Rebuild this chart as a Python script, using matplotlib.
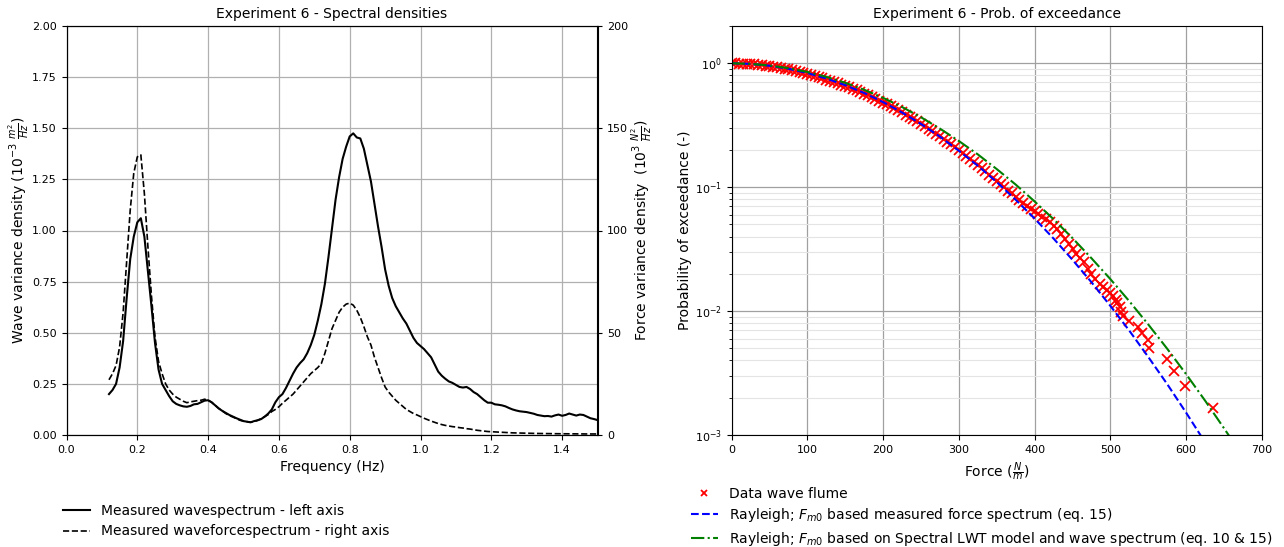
import numpy as np
import matplotlib.pyplot as plt
from matplotlib.lines import Line2D

# spectra on a 0.01 Hz frequency grid
freq = np.round(np.arange(0.12, 1.505, 0.01), 2)

# wave variance density (10^-3 m^2/Hz)
wave_spec = [
    0.20, 0.22, 0.25, 0.33, 0.46, 0.67, 0.86, 0.97, 1.04, 1.06,
    0.97, 0.80, 0.63, 0.45, 0.32, 0.25, 0.22, 0.19, 0.165, 0.152,
    0.145, 0.140, 0.138, 0.142, 0.150, 0.152, 0.160, 0.168, 0.170, 0.160,
    0.145, 0.130, 0.118, 0.108, 0.098, 0.090, 0.082, 0.075, 0.068, 0.065,
    0.062, 0.068, 0.072, 0.078, 0.090, 0.105, 0.125, 0.160, 0.185, 0.200,
    0.230, 0.265, 0.300, 0.330, 0.352, 0.370, 0.400, 0.440, 0.490, 0.560,
    0.640, 0.740, 0.870, 1.010, 1.150, 1.260, 1.350, 1.410, 1.460, 1.475,
    1.455, 1.450, 1.400, 1.320, 1.240, 1.130, 1.020, 0.920, 0.810, 0.730,
    0.670, 0.630, 0.600, 0.570, 0.545, 0.510, 0.475, 0.450, 0.435, 0.420,
    0.400, 0.380, 0.345, 0.310, 0.290, 0.275, 0.262, 0.255, 0.245, 0.235,
    0.232, 0.235, 0.225, 0.210, 0.200, 0.185, 0.170, 0.158, 0.158, 0.150,
    0.148, 0.145, 0.140, 0.132, 0.125, 0.120, 0.116, 0.114, 0.112, 0.108,
    0.104, 0.098, 0.095, 0.092, 0.093, 0.090, 0.096, 0.100, 0.094, 0.098,
    0.105, 0.100, 0.095, 0.100, 0.098, 0.090, 0.082, 0.078, 0.073,
]

# force variance density (10^3 N^2/Hz)
force_spec = [
    27, 30, 34, 43, 60, 85, 110, 128, 136, 137,
    118, 92, 68, 48, 36, 30, 25, 22, 20, 18.5,
    17.5, 16.5, 15.8, 16.2, 16.5, 16.8, 17, 17.5, 17, 16,
    14.5, 13, 11.8, 10.5, 9.5, 8.8, 8, 7.2, 6.8, 6.5,
    6.3, 6.5, 7.2, 8, 9, 10, 11.5, 12.5, 13.8, 15.5,
    17, 18.5, 20, 22, 24, 26, 28, 30, 31.5, 33,
    35, 40, 46, 52, 56, 60, 62.5, 64, 64.5, 63.5,
    61, 57.5, 53, 48, 44, 38, 33, 28, 23.5, 21,
    19, 17, 15.5, 14, 12.5, 11.5, 10.5, 9.8, 9, 8.2,
    7.5, 6.8, 6.2, 5.6, 5.1, 4.7, 4.4, 4.1, 3.9, 3.6,
    3.4, 3.1, 2.9, 2.6, 2.3, 2.1, 1.9, 1.7, 1.6, 1.5,
    1.4, 1.3, 1.2, 1.1, 1.05, 1.0, 0.95, 0.9, 0.85, 0.8,
    0.78, 0.75, 0.72, 0.7, 0.68, 0.66, 0.64, 0.62, 0.6, 0.58,
    0.56, 0.55, 0.54, 0.53, 0.52, 0.51, 0.5, 0.5, 0.5,
]

# measured force peaks and their probability of exceedance
data_force = [
    0, 5, 10, 15, 20, 25, 30, 35, 40, 45,
    50, 55, 60, 65, 70, 75, 80, 85, 90, 95,
    100, 105, 110, 115, 120, 125, 130, 135, 140, 145,
    150, 155, 160, 165, 170, 175, 180, 185, 190, 195,
    200, 205, 210, 215, 220, 225, 230, 235, 240, 245,
    250, 255, 260, 265, 270, 275, 280, 285, 290, 295,
    300, 305, 310, 315, 320, 325, 330, 335, 340, 345,
    350, 355, 360, 365, 370, 375, 380, 385, 390, 395,
    400, 405, 410, 415, 420, 425, 430, 435, 440, 445,
    450, 455, 460, 465, 470, 475, 480, 486, 490, 495,
    500, 504, 507, 509, 512, 514, 516, 524, 536, 541,
    549, 551, 575, 584, 599, 636,
]
data_prob = [
    1.0, 0.998, 0.995, 0.992, 0.988, 0.983, 0.978, 0.972, 0.965, 0.958,
    0.950, 0.940, 0.930, 0.919, 0.907, 0.895, 0.882, 0.867, 0.852, 0.836,
    0.820, 0.804, 0.788, 0.773, 0.757, 0.740, 0.722, 0.706, 0.690, 0.672,
    0.655, 0.638, 0.622, 0.605, 0.588, 0.570, 0.553, 0.535, 0.518, 0.500,
    0.482, 0.466, 0.450, 0.434, 0.418, 0.401, 0.385, 0.370, 0.355, 0.340,
    0.325, 0.311, 0.297, 0.283, 0.270, 0.257, 0.245, 0.233, 0.222, 0.211,
    0.200, 0.190, 0.180, 0.170, 0.160, 0.151, 0.142, 0.134, 0.126, 0.119,
    0.112, 0.106, 0.100, 0.094, 0.089, 0.084, 0.079, 0.075, 0.071, 0.067,
    0.064, 0.061, 0.058, 0.055, 0.052, 0.049, 0.046, 0.042, 0.038, 0.035,
    0.032, 0.029, 0.027, 0.025, 0.022, 0.020, 0.018, 0.0165, 0.0157, 0.0149,
    0.0140, 0.0132, 0.0124, 0.0116, 0.0107, 0.0099, 0.0091, 0.0083, 0.0074, 0.0066,
    0.0058, 0.0050, 0.0041, 0.0033, 0.0025, 0.00165,
]

# Rayleigh curves
ray_force = [0, 25, 50, 75, 100, 125, 150, 175, 200, 225, 250, 275, 300, 325,
             350, 375, 400, 425, 450, 475, 500, 525, 550, 575, 600, 625, 650, 675, 700]
ray_meas = [1.0, 0.989, 0.956, 0.904, 0.835, 0.754, 0.666, 0.576, 0.486, 0.401,
            0.324, 0.256, 0.197, 0.149, 0.110, 0.0792, 0.0558, 0.0385, 0.0259,
            0.0171, 0.0110, 0.00694, 0.00426, 0.00257, 0.00151, 0.00087, 0.00049,
            0.00027, 0.00014]
ray_lwt = [1.0, 0.990, 0.961, 0.914, 0.852, 0.778, 0.697, 0.612, 0.526, 0.444,
           0.367, 0.297, 0.236, 0.184, 0.140, 0.105, 0.0767, 0.0551, 0.0388,
           0.0267, 0.0181, 0.0120, 0.00779, 0.00496, 0.00309, 0.00189, 0.00113,
           0.00067, 0.00038]

fig = plt.figure(figsize=(12.84, 5.47), dpi=100)
W, H = 1284, 547

# ---- spectral densities ----
ax1 = fig.add_axes([66.5/W, 1-435/H, (597.5-66.5)/W, 409/H])
ax2 = ax1.twinx()
ax1.plot(freq, wave_spec, 'k-', lw=1.5)
ax2.plot(freq, force_spec, 'k--', lw=1.2)
ax1.set_xlim(0, 1.5)
ax1.set_ylim(0, 2)
ax2.set_ylim(0, 200)
ax1.set_xticks(np.arange(0, 1.41, 0.2))
ax1.set_yticks(np.arange(0, 2.01, 0.25))
ax2.set_yticks(np.arange(0, 201, 50))
ax1.yaxis.set_major_formatter('{x:.2f}')
ax1.xaxis.set_major_formatter('{x:.1f}')
ax1.grid(True, color='#b0b0b0', lw=0.9)
ax1.tick_params(labelsize=8)
ax2.tick_params(labelsize=8)
ax1.set_xlabel('Frequency (Hz)', fontsize=10)
ax1.set_ylabel(r'Wave variance density ($10^{-3}$ $\frac{m^2}{Hz}$)', fontsize=10, labelpad=1)
ax2.set_ylabel(r'Force variance density  ($10^3$ $\frac{N^2}{Hz}$)', fontsize=10, labelpad=1)
ax1.set_title('Experiment 6 - Spectral densities', fontsize=10)

left_handles = [Line2D([], [], color='k', ls='-', lw=1.5),
                Line2D([], [], color='k', ls='--', lw=1.2)]
fig.legend(left_handles,
           ['Measured wavespectrum - left axis', 'Measured waveforcespectrum - right axis'],
           loc='upper left', bbox_to_anchor=(50/W, 1-491/H), frameon=False, fontsize=10)

# ---- probability of exceedance ----
ax3 = fig.add_axes([731.5/W, 1-435/H, (1262-731.5)/W, 409/H])
ax3.plot(data_force, data_prob, 'rx', ms=6.5, mew=1.3, label='Data wave flume')
ax3.plot(ray_force, ray_meas, 'b--', lw=1.5,
         label=r'Rayleigh; $F_{m0}$ based measured force spectrum (eq. 15)')
ax3.plot(ray_force, ray_lwt, 'g-.', lw=1.5,
         label=r'Rayleigh; $F_{m0}$ based on Spectral LWT model and wave spectrum (eq. 10 & 15)')
ax3.set_yscale('log')
ax3.set_xlim(0, 700)
ax3.set_ylim(1e-3, 2)
ax3.set_xticks(np.arange(0, 701, 100))
ax3.grid(True, which='major', color='#a0a0a0', lw=0.9)
ax3.grid(True, which='minor', color='#e4e4e4', lw=0.8)
ax3.tick_params(labelsize=8)
ax3.set_xlabel(r'Force ($\frac{N}{m}$)', fontsize=10)
ax3.set_ylabel('Probability of exceedance (-)', fontsize=10, labelpad=2)
ax3.set_title('Experiment 6 - Prob. of exceedance', fontsize=10)
fig.legend(*ax3.get_legend_handles_labels(), loc='upper left',
           bbox_to_anchor=(678/W, 1-474/H), frameon=False, fontsize=10,
           labelspacing=0.4, markerscale=0.7)

fig.savefig('out.png', dpi=100)
